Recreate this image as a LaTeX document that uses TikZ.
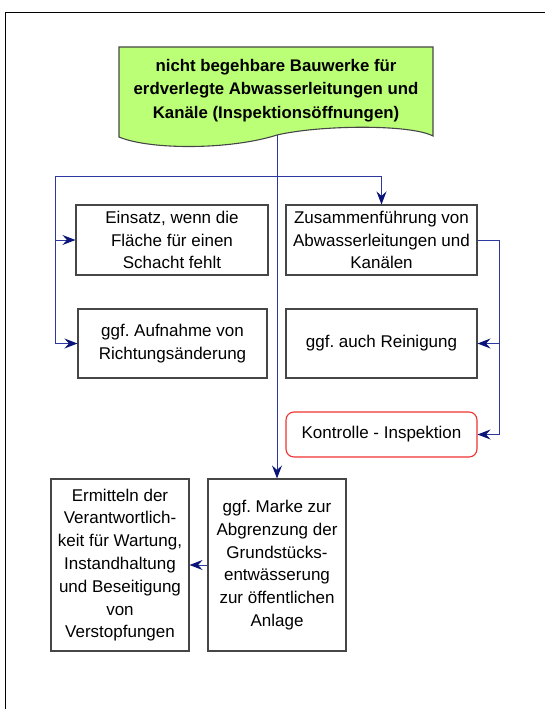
\documentclass[tikz,border=0pt]{standalone}
\usepackage{fontspec}
\setmainfont{Liberation Sans}
\usetikzlibrary{arrows.meta}
\definecolor{lineblue}{RGB}{45,55,160}
\definecolor{tipblue}{RGB}{10,20,120}
\definecolor{docgreen}{RGB}{187,255,119}
\definecolor{boxgray}{RGB}{70,70,70}
\definecolor{boxred}{RGB}{240,50,50}
\frenchspacing
\begin{document}
\begin{tikzpicture}[x=1pt,y=-1pt,
  box/.style={draw=boxgray, line width=1.1pt, fill=white, align=center,
    font=\fontsize{17}{22.8}\selectfont, inner sep=0pt},
  roundbox/.style={box, draw=boxred, rounded corners=8pt},
  titletext/.style={align=center, font=\fontsize{16.8}{23.5}\selectfont\bfseries, inner sep=0pt},
  conn/.style={draw=lineblue, line width=1pt,
    -{Stealth[length=13pt,width=10pt,inset=4.5pt,color=tipblue]}},
  frame/.style={draw=black, line width=1.5pt}
]
\useasboundingbox (0,0) rectangle (545,709);
\draw[frame] (5.5,709) -- (5.5,12.5) -- (545,12.5);

% document shape
\filldraw[fill=docgreen, draw=boxgray, line width=1.1pt]
  (119,47) -- (433,47) -- (433,136)
  .. controls (410,124) and (320,125) .. (277,135)
  .. controls (230,150) and (150,150) .. (119,137) -- cycle;
\node[titletext] (doc) at (276,90.5) {nicht begehbare Bauwerke für\\erdverlegte Abwasserleitungen und\\Kanäle (Inspektionsöffnungen)};
\coordinate (docbot) at (277,135);
\coordinate (split) at (277,176);
\coordinate (lx) at (55,176);
\coordinate (rx) at (499,240);

\node[box, minimum width=192pt, minimum height=70pt] (ein) at (172,240) {Einsatz, wenn die\\Fläche für einen\\Schacht fehlt};
\node[box, minimum width=189pt, minimum height=69pt] (auf) at (172.5,343.5) {ggf. Aufnahme von\\Richtungsänderung};
\node[box, minimum width=191pt, minimum height=70pt] (zus) at (381.5,240) {Zusammenführung von\\Abwasserleitungen und\\Kanälen};
\node[box, minimum width=191pt, minimum height=69pt] (rei) at (381.5,343.5) {ggf. auch Reinigung};
\node[roundbox, minimum width=191pt, minimum height=45pt] (kon) at (381.5,434.5) {Kontrolle - Inspektion};
\node[box, minimum width=138pt, minimum height=172pt] (mar) at (277,565) {ggf. Marke zur\\Abgrenzung der\\Grundstücks-\\entwässerung\\zur öffentlichen\\Anlage};
\node[box, minimum width=138pt, minimum height=172pt] (erm) at (120,565) {Ermitteln der\\Verantwortlich-\\keit für Wartung,\\Instandhaltung\\und Beseitigung\\von\\Verstopfungen};

\draw[conn] (docbot) -- (mar.north);
\draw[conn] (split) -| (zus.north);
\draw[conn] (split) -- (lx) |- (ein.west);
\draw[conn] (lx) |- (auf.west);
\draw[conn] (zus.east) -- (rx) |- (rei.east);
\draw[conn] (rx) |- (kon.east);
\draw[conn] (mar.west) -- (erm.east);
\end{tikzpicture}
\end{document}
